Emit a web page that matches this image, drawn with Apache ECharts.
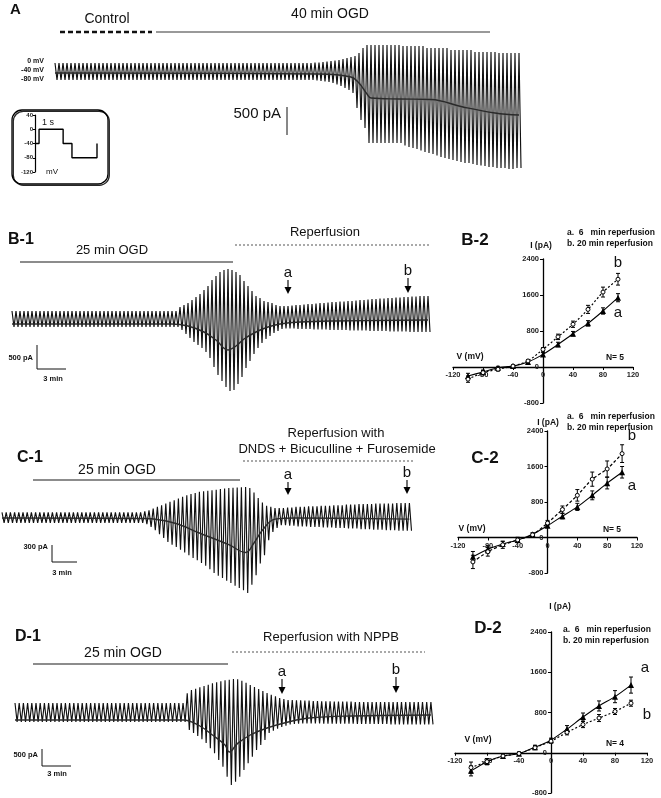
<!DOCTYPE html>
<html><head><meta charset="utf-8">
<script src="https://cdn.jsdelivr.net/npm/echarts/dist/echarts.min.js"></script>
<style>html,body{margin:0;padding:0;background:#fff}#c{width:661px;height:798px}</style>
</head><body><div id="c"></div><script>
const FF = '"Liberation Sans", Arial, sans-serif';

// ---------- Panel A: per-cycle peak (outward) and trough (inward) current, pA ----------
const aTop = [
200,200,200,200,200,200,200,200,200,200,200,200,200,
200,200,200,200,200,200,200,200,200,200,200,200,200,
200,200,200,200,200,200,200,200,200,200,200,200,200,
200,200,200,200,200,200,200,200,200,200,200,200,200,
200,200,200,200,200,200,200,200,200,200,200,200,200,
210,210,220,230,240,250,260,280,300,320,340,400,500,
560,560,560,560,560,560,560,560,560,
540,540,540,540,540,540,
500,500,500,500,500,500,
460,460,460,460,460,460,
420,420,420,420,420,420,
400,400,400,400,400,400];
const aBot = [
-140,-140,-140,-140,-140,-140,-140,-140,-140,-140,-140,-140,-140,
-140,-140,-140,-140,-140,-140,-140,-140,-140,-140,-140,-140,-140,
-140,-140,-140,-140,-140,-140,-140,-140,-140,-140,-140,-140,-140,
-140,-140,-140,-140,-140,-140,-140,-140,-140,-140,-140,-140,-140,
-140,-140,-140,-140,-140,-140,-140,-140,-140,-140,-140,-140,-140,
-150,-160,-170,-180,-200,-230,-260,-300,-340,-400,-700,-940,-1100,
-1400,-1400,-1400,-1400,-1400,-1400,-1400,-1400,-1400,
-1450,-1480,-1500,-1520,-1550,-1580,
-1600,-1620,-1650,-1680,-1700,-1720,
-1740,-1760,-1780,-1800,-1800,-1820,
-1840,-1850,-1860,-1880,-1880,-1900,
-1900,-1900,-1920,-1920,-1900,-1900];
const aBase = [[0,0],[66,-20],[74,-80],[76,-200],[78,-420],[79,-500],[86,-520],[94,-530],[102,-680],[110,-800],[116,-840]];

// protocol inset (s, mV)
const protoT = [0,0.17,0.17,1.18,1.18,1.55,1.55,2.6,2.6];
const protoV = [-40,-40,0,0,-40,-40,-80,-80,-40];

// ---------- Panel B-1 ----------
const bTop = [
260,260,260,260,260,260,260,260,260,260,260,260,260,260,
260,260,260,260,260,260,260,260,260,260,260,260,260,260,
260,260,260,260,260,260,260,260,260,260,260,260,260,260,
340,380,420,480,540,600,680,760,880,960,1040,1080,1100,1080,1040,980,860,760,660,560,520,460,440,420,380,360,
360,360,370,380,380,390,400,400,410,420,420,430,440,440,450,450,
460,460,470,480,480,490,500,500,510,510,520,520,530,530,540,540,
550,550,560,560,560];
const bBot = [
-60,-60,-60,-60,-60,-60,-60,-60,-60,-60,-60,-60,-60,-60,
-60,-60,-60,-60,-60,-60,-60,-60,-60,-60,-60,-60,-60,-60,
-60,-60,-60,-60,-60,-60,-60,-60,-60,-60,-60,-60,-60,-60,
-120,-200,-280,-360,-420,-480,-560,-680,-860,-1020,-1140,-1260,-1340,-1320,-1200,-1060,-880,-740,-600,-480,-380,-300,-240,-180,-140,-100,
-90,-90,-90,-100,-100,-100,-100,-110,-110,-110,-110,-120,-120,-120,-120,-120,
-130,-130,-130,-130,-130,-140,-140,-140,-140,-140,-150,-150,-150,-150,-150,-160,
-160,-160,-160,-160,-160];
const bBase = [[0,0],[40,0],[44,-40],[48,-160],[51,-320],[54,-520],[56,-440],[58,-300],[61,-160],[64,-60],[67,0],[72,40],[80,60],[104,80]];

// ---------- Panel C-1 ----------
const cTop = [
100,100,100,100,100,100,100,100,100,100,100,100,100,100,100,100,100,
100,100,100,100,100,100,100,100,100,100,100,100,100,100,100,100,100,
120,140,170,200,230,260,290,320,350,380,410,430,450,470,480,490,500,510,520,530,540,545,550,555,560,
540,460,360,280,220,200,180,
180,180,190,190,200,200,200,210,210,210,220,220,220,230,230,230,
240,240,240,250,250,250,250,260,260,260,260,260,270,270,270,270];
const cBot = [
-90,-90,-90,-90,-90,-90,-90,-90,-90,-90,-90,-90,-90,-90,-90,-90,-90,
-90,-90,-90,-90,-90,-90,-90,-90,-90,-90,-90,-90,-90,-90,-90,-90,-90,
-110,-160,-220,-290,-360,-430,-480,-520,-570,-620,-670,-720,-760,-810,-860,-920,-990,-1040,-1080,-1130,-1170,-1220,-1260,-1300,-1350,
-1200,-1030,-820,-670,-400,-250,-180,
-130,-130,-140,-140,-150,-150,-150,-160,-160,-160,-170,-170,-170,-180,-180,-180,
-190,-190,-190,-200,-200,-200,-210,-210,-210,-220,-220,-220,-230,-230,-230,-230];
const cBase = [[0,0],[34,-10],[41,-90],[47,-270],[54,-480],[58,-620],[60,-450],[62,-220],[65,-20],[70,0],[97,-20]];

// ---------- Panel D-1 ----------
const dTop = [
510,510,510,510,510,510,510,510,510,510,510,510,510,510,510,510,510,510,510,510,510,
510,510,510,510,510,510,510,510,510,510,510,510,510,510,510,510,510,510,510,510,
800,900,940,980,1020,1060,1100,1130,1160,1190,1210,1230,1220,1180,1120,1050,990,930,870,810,760,710,660,630,
600,600,590,590,580,580,570,570,560,560,560,550,550,550,550,550,
540,540,540,540,540,540,540,540,540,540,540,540,540,540,540,540,540,540,540];
const dBot = [
-60,-60,-60,-60,-60,-60,-60,-60,-60,-60,-60,-60,-60,-60,-60,-60,-60,-60,-60,-60,-60,
-60,-60,-60,-60,-60,-60,-60,-60,-60,-60,-60,-60,-60,-60,-60,-60,-60,-60,-60,-60,
-300,-390,-480,-580,-690,-850,-1000,-1200,-1400,-1700,-1950,-1850,-1700,-1500,-1300,-1100,-900,-750,-600,-390,-320,-260,-210,-170,
-130,-120,-110,-100,-100,-100,-100,-100,-110,-110,-110,-110,-110,-110,-110,-110,
-120,-120,-120,-120,-120,-120,-120,-120,-130,-130,-130,-130,-130,-130,-130,-130,-130,-130,-130];
const dBase = [[0,0],[40,0],[44,-180],[47,-450],[50,-750],[51,-960],[53,-700],[56,-450],[60,-240],[65,-60],[70,60],[80,120],[99,150]];

// ---------- I-V curves ----------
const ivV = [-100,-80,-60,-40,-20,0,20,40,60,80,100];
const ivXTicks = [-120,-80,-40,0,40,80,120];
const ivYTicks = [-800,0,800,1600,2400];
const b2a = [-200,-110,-15,20,110,280,500,740,970,1245,1540];
const b2b = [-270,-125,-50,20,135,390,670,950,1280,1665,1950];
const b2aErr = [60,40,30,20,30,40,50,50,60,70,90];
const b2bErr = [70,50,40,30,30,40,60,70,90,110,130];
const c2a = [-435,-265,-145,-55,75,265,480,690,950,1225,1470];
const c2b = [-550,-320,-165,-55,60,325,630,950,1315,1545,1890];
const c2aErr = [120,80,60,40,30,40,60,80,100,130,130];
const c2bErr = [150,100,80,60,40,60,80,130,160,180,200];
const d2a = [-360,-177,-65,-20,110,250,470,710,930,1115,1345];
const d2b = [-295,-177,-65,-15,100,230,405,560,690,820,985];
const d2aErr = [100,60,40,30,40,40,70,80,100,120,160];
const d2bErr = [110,60,40,30,40,40,50,60,70,60,60];

// ---------- build ----------
function traceData(top, bot){ const d=[]; for(let i=0;i<top.length;i++){ d.push([i, top[i]]); d.push([i+0.5, bot[i]]); } return d; }

const grids = [
  {left:55, top:30, width:466, height:150},      // 0 A trace
  {left:35, top:115, width:62, height:57},       // 1 inset protocol
  {left:12, top:260, width:418, height:140},     // 2 B-1
  {left:453, top:259, width:180, height:144},    // 3 B-2
  {left:2, top:470, width:409.5, height:130},    // 4 C-1
  {left:458, top:431, width:179, height:142},    // 5 C-2
  {left:15, top:670, width:418, height:128},     // 6 D-1
  {left:455, top:632, width:192, height:161}     // 7 D-2
];
function traceX(gi, n){ return {gridIndex:gi, type:'value', min:0, max:n-0.5, show:false}; }
function traceY(gi, mn, mx){ return {gridIndex:gi, type:'value', min:mn, max:mx, show:false}; }
const xmin = ivXTicks[0], xmax = ivXTicks[ivXTicks.length-1];
const ymin = ivYTicks[0], ymax = ivYTicks[ivYTicks.length-1];
const lab = {fontSize:7.5, fontWeight:'bold', color:'#222', fontFamily:FF, formatter:(v)=>String(v)};
function ivX(gi){ const g=grids[gi];
  return {gridIndex:gi, type:'value', min:xmin, max:xmax, interval:40, position:'bottom',
  offset: -((0-ymin)/(ymax-ymin))*g.height,
  axisLine:{onZero:false, lineStyle:{color:'#000', width:1.3}}, axisTick:{show:true, length:3, lineStyle:{color:'#000'}},
  axisLabel:Object.assign({margin:4}, lab), splitLine:{show:false}}; }
function ivY(gi){ const g=grids[gi];
  return {gridIndex:gi, type:'value', min:ymin, max:ymax, interval:800, position:'left',
  offset: -((0-xmin)/(xmax-xmin))*g.width,
  axisLine:{onZero:false, lineStyle:{color:'#000', width:1.3}}, axisTick:{show:true, length:3, lineStyle:{color:'#000'}},
  axisLabel:Object.assign({margin:4}, lab), splitLine:{show:false}}; }

const xAxes = [traceX(0, aTop.length),
  {gridIndex:1, type:'value', min:0, max:2.6, show:false},
  traceX(2, bTop.length), ivX(3), traceX(4, cTop.length), ivX(5), traceX(6, dTop.length), ivX(7)];
const yAxes = [traceY(0, -2140, 860),
  {gridIndex:1, type:'value', min:-120, max:40, interval:40, axisLine:{show:true, lineStyle:{color:'#000', width:1.2}},
   axisTick:{show:true, length:2, lineStyle:{color:'#000'}}, axisLabel:{fontSize:6, fontWeight:'bold', color:'#222', margin:2, fontFamily:FF}, splitLine:{show:false}},
  traceY(2, -1520, 1280), ivY(3), traceY(4, -1476, 864), ivY(5), traceY(6, -2340, 1500), ivY(7)];

function traceSeries(gi, top, bot, base){
  return [
    {type:'line', xAxisIndex:gi, yAxisIndex:gi, data:traceData(top,bot), symbol:'none', smooth:false,
     lineStyle:{color:'#111', width:1.15}, silent:true, animation:false},
    {type:'line', xAxisIndex:gi, yAxisIndex:gi, data:base, symbol:'none', smooth:0.4,
     lineStyle:{color:'#2a2a2a', width:1.4}, silent:true, animation:false, z:3}
  ];
}
function errSeries(gi, vals, errs){
  return {type:'custom', xAxisIndex:gi, yAxisIndex:gi, animation:false, silent:true, z:4,
    data: ivV.map((v,i)=>[v, vals[i], errs[i]]), encode:{x:0, y:1},
    renderItem(params, api){
      const x=api.value(0), y=api.value(1), e=api.value(2);
      const p1=api.coord([x,y-e]), p2=api.coord([x,y+e]); const w=2;
      const st={stroke:'#000', lineWidth:1};
      return {type:'group', children:[
        {type:'line', shape:{x1:p1[0],y1:p1[1],x2:p2[0],y2:p2[1]}, style:st},
        {type:'line', shape:{x1:p2[0]-w,y1:p2[1],x2:p2[0]+w,y2:p2[1]}, style:st},
        {type:'line', shape:{x1:p1[0]-w,y1:p1[1],x2:p1[0]+w,y2:p1[1]}, style:st}]};
    }};
}
function ivSeries(gi, a, b, aE, bE, dashB){
  return [
    errSeries(gi, a, aE), errSeries(gi, b, bE),
    {type:'line', xAxisIndex:gi, yAxisIndex:gi, data:ivV.map((v,i)=>[v,a[i]]), symbol:'triangle', symbolSize:6, smooth:0.2,
     itemStyle:{color:'#000'}, lineStyle:{color:'#000', width:1.1}, animation:false, z:5},
    {type:'line', xAxisIndex:gi, yAxisIndex:gi, data:ivV.map((v,i)=>[v,b[i]]), symbol:'circle', symbolSize:4, smooth:0.2,
     itemStyle:{color:'#fff', borderColor:'#000', borderWidth:1}, lineStyle:{color:'#000', width:1.2, type:dashB}, animation:false, z:5}
  ];
}

const series = [].concat(
  traceSeries(0, aTop, aBot, aBase),
  [{type:'line', xAxisIndex:1, yAxisIndex:1, data:protoT.map((t,i)=>[t,protoV[i]]), symbol:'none',
    lineStyle:{color:'#000', width:1.4}, animation:false}],
  traceSeries(2, bTop, bBot, bBase),
  ivSeries(3, b2a, b2b, b2aErr, b2bErr, [2,2]),
  traceSeries(4, cTop, cBot, cBase),
  ivSeries(5, c2a, c2b, c2aErr, c2bErr, [3,2]),
  traceSeries(6, dTop, dBot, dBase),
  ivSeries(7, d2a, d2b, d2aErr, d2bErr, [2,2])
);

// ---------- annotations ----------
const G = [];
function T(x, y, text, size, o){ o=o||{};
  G.push({type:'text', x:x, y:y, z:10, style:{text:text, font:(o.bold?'bold ':'')+size+'px '+FF, fill:o.color||'#111',
    textAlign:o.align||'center', textVerticalAlign:'middle'}}); }
function L(x1,y1,x2,y2,o){ o=o||{};
  G.push({type:'line', z:10, shape:{x1,y1,x2,y2}, style:{stroke:o.color||'#111', lineWidth:o.w||1, lineDash:o.dash||null}}); }
function arrow(x, yText, yTip, label){
  T(x, yText, label, 15);
  L(x, yText+7, x, yTip-4, {w:1.2});
  G.push({type:'polygon', z:10, shape:{points:[[x-3.5,yTip-7],[x+3.5,yTip-7],[x,yTip]]}, style:{fill:'#000'}});
}
// A
T(10, 10, 'A', 15, {bold:true, align:'left'});
T(107, 19, 'Control', 14);
T(330, 14, '40 min OGD', 14);
L(60, 32, 152, 32, {w:2.5, dash:[5,3], color:'#111'});
L(156, 32, 490, 32, {w:1.6, color:'#777'});
T(44, 61, '0 mV', 7, {bold:true, align:'right'});
T(44, 70, '-40 mV', 7, {bold:true, align:'right'});
T(44, 79, '-80 mV', 7, {bold:true, align:'right'});
T(281, 114, '500 pA', 15, {align:'right'});
L(287, 107, 287, 135, {w:1});
G.push({type:'rect', z:9, shape:{x:12, y:110, width:96, height:74, r:10},
  style:{fill:'none', stroke:'#000', lineWidth:1.3, shadowColor:'rgba(0,0,0,0.85)', shadowOffsetX:1.3, shadowOffsetY:1.3, shadowBlur:0}});
T(48, 123, '1 s', 9);
T(52, 172, 'mV', 8);
// B
T(8, 240, 'B-1', 16, {bold:true, align:'left'});
T(112, 250, '25 min OGD', 13);
L(20, 262, 233, 262, {w:1.3, color:'#666'});
T(325, 232, 'Reperfusion', 13);
L(235, 245, 430, 245, {w:1, dash:[2,2], color:'#555'});
arrow(288, 273, 294, 'a');
arrow(408, 271, 293, 'b');
T(33, 358, '500 pA', 7.5, {bold:true, align:'right'});
L(37, 345, 37, 369); L(37, 369, 66, 369);
T(53, 379, '3 min', 7.5, {bold:true});
T(475, 240, 'B-2', 17, {bold:true});
T(567, 233, 'a.  6   min reperfusion', 8.5, {bold:true, align:'left'});
T(567, 244, 'b. 20 min reperfusion', 8.5, {bold:true, align:'left'});
T(541, 246, 'I (pA)', 8.5, {bold:true});
T(470, 357, 'V (mV)', 8.5, {bold:true});
T(615, 358, 'N= 5', 8.5, {bold:true});
T(618, 263, 'b', 15); T(618, 313, 'a', 15);
// C
T(17, 458, 'C-1', 16, {bold:true, align:'left'});
T(117, 470, '25 min OGD', 14);
L(33, 480, 240, 480, {w:1.3, color:'#666'});
T(336, 433, 'Reperfusion with', 13);
T(337, 449, 'DNDS + Bicuculline + Furosemide', 13);
L(243, 461, 415, 461, {w:1, dash:[2,2], color:'#555'});
arrow(288, 475, 495, 'a');
arrow(407, 473, 494, 'b');
T(48, 547, '300 pA', 7.5, {bold:true, align:'right'});
L(52, 545, 52, 562); L(52, 562, 77, 562);
T(62, 573, '3 min', 7.5, {bold:true});
T(485, 458, 'C-2', 17, {bold:true});
T(567, 417, 'a.  6   min reperfusion', 8.5, {bold:true, align:'left'});
T(567, 428, 'b. 20 min reperfusion', 8.5, {bold:true, align:'left'});
T(548, 423, 'I (pA)', 8.5, {bold:true});
T(472, 529, 'V (mV)', 8.5, {bold:true});
T(612, 530, 'N= 5', 8.5, {bold:true});
T(632, 436, 'b', 15); T(632, 486, 'a', 15);
// D
T(15, 637, 'D-1', 16, {bold:true, align:'left'});
T(123, 653, '25 min OGD', 14);
L(33, 664, 228, 664, {w:1.3, color:'#666'});
T(331, 637, 'Reperfusion with NPPB', 13);
L(232, 652, 425, 652, {w:1, dash:[2,2], color:'#555'});
arrow(282, 672, 694, 'a');
arrow(396, 670, 693, 'b');
T(38, 755, '500 pA', 7.5, {bold:true, align:'right'});
L(42, 749, 42, 766); L(42, 766, 71, 766);
T(57, 774, '3 min', 7.5, {bold:true});
T(488, 628, 'D-2', 17, {bold:true});
T(563, 630, 'a.  6   min reperfusion', 8.5, {bold:true, align:'left'});
T(563, 641, 'b. 20 min reperfusion', 8.5, {bold:true, align:'left'});
T(560, 607, 'I (pA)', 8.5, {bold:true});
T(478, 740, 'V (mV)', 8.5, {bold:true});
T(615, 744, 'N= 4', 8.5, {bold:true});
T(645, 668, 'a', 15); T(647, 715, 'b', 15);

const chart = echarts.init(document.getElementById('c'), null, {renderer:'canvas'});
chart.setOption({
  backgroundColor:'#fff', animation:false,
  textStyle:{fontFamily:FF},
  grid: grids, xAxis: xAxes, yAxis: yAxes, series: series, graphic: {elements: G}
});
</script></body></html>
